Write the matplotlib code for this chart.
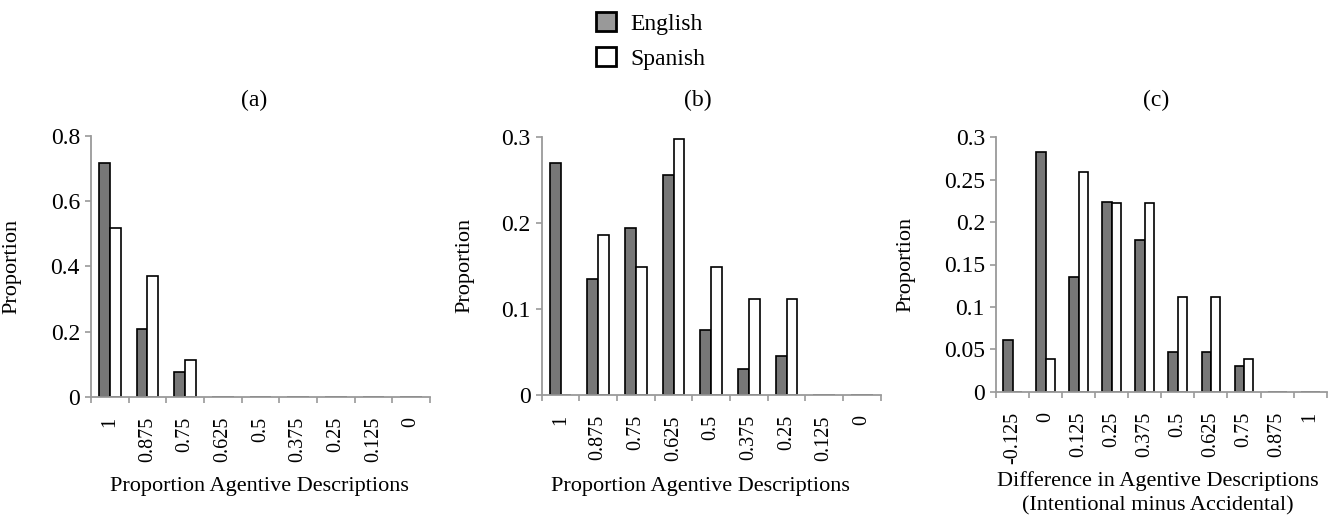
import numpy as np
import matplotlib.pyplot as plt
from matplotlib.patches import Patch

plt.rcParams['font.family'] = ['Liberation Serif', 'DejaVu Serif']

# category labels
cats_ab = ['1', '0.875', '0.75', '0.625', '0.5', '0.375', '0.25', '0.125', '0']
cats_c = ['-0.125', '0', '0.125', '0.25', '0.375', '0.5', '0.625', '0.75', '0.875', '1']

# panel (a)
eng_a = [0.716, 0.208, 0.075, 0, 0, 0, 0, 0, 0]
spa_a = [0.519, 0.371, 0.1125, 0, 0, 0, 0, 0, 0]
# panel (b)
eng_b = [0.269, 0.135, 0.194, 0.255, 0.0755, 0.0306, 0.0457, 0, 0]
spa_b = [0, 0.1854, 0.1486, 0.297, 0.1486, 0.111, 0.111, 0, 0]
# panel (c)
eng_c = [0.0609, 0.2823, 0.1353, 0.2233, 0.1793, 0.0464, 0.0464, 0.0307, 0, 0]
spa_c = [0, 0.0385, 0.2587, 0.2221, 0.2221, 0.1113, 0.1113, 0.0385, 0, 0]

W, H = 1329, 518
fig = plt.figure(figsize=(W / 100, H / 100), dpi=100)

gray = '#777777'
axcol = '#9a9a9a'
bw = 1 / 3.5  # excel style gap width 150%


def px_axes(left, right, top, bottom):
    return fig.add_axes([left / W, 1 - bottom / H, (right - left) / W, (bottom - top) / H])


def draw(ax, cats, eng, spa, ymax, yticks, ytl, xlabel, ylab_x, xlab_x, xlab_y):
    x = np.arange(len(cats))
    ax.bar(x - bw / 2, eng, bw, color=gray, edgecolor='black', linewidth=1.2)
    ax.bar(x + bw / 2, spa, bw, color='white', edgecolor='black', linewidth=1.2)
    ax.set_xlim(-0.5, len(cats) - 0.5)
    ax.set_ylim(0, ymax)
    ax.set_yticks(yticks)
    ax.set_yticklabels(ytl, fontsize=17)
    ax.set_xticks(x)
    ax.set_xticklabels(cats, rotation=90, fontsize=14.5)
    ax.set_xticks(np.arange(len(cats) + 1) - 0.5, minor=True)
    ax.tick_params(axis='x', which='major', length=0, pad=14.5)
    ax.tick_params(axis='x', which='minor', length=4.5, width=1.2, color=axcol)
    ax.tick_params(axis='y', length=4, width=1.2, color=axcol, pad=4)
    for s in ['top', 'right']:
        ax.spines[s].set_visible(False)
    for s in ['left', 'bottom']:
        ax.spines[s].set_color(axcol)
        ax.spines[s].set_linewidth(1.3)
    ax.set_ylabel('Proportion', fontsize=16)
    ax.yaxis.set_label_coords(ylab_x, 0.5)
    ax.set_xlabel(xlabel, fontsize=16, linespacing=1.4)
    ax.xaxis.set_label_coords(xlab_x, xlab_y)
    ax.xaxis.label.set_va('center')


ax_a = px_axes(91, 430, 136, 396.7)
draw(ax_a, cats_ab, eng_a, spa_a, 0.8, [0, 0.2, 0.4, 0.6, 0.8],
     ['0', '0.2', '0.4', '0.6', '0.8'], 'Proportion Agentive Descriptions',
     -0.205, 0.496, -0.346)

ax_b = px_axes(541.7, 880.7, 136.7, 395)
draw(ax_b, cats_ab, eng_b, spa_b, 0.3, [0, 0.1, 0.2, 0.3],
     ['0', '0.1', '0.2', '0.3'], 'Proportion Agentive Descriptions',
     -0.2, 0.467, -0.356)

ax_c = px_axes(996, 1326.7, 137.3, 391.7)
draw(ax_c, cats_c, eng_c, spa_c, 0.3, [0, 0.05, 0.1, 0.15, 0.2, 0.25, 0.3],
     ['0', '0.05', '0.1', '0.15', '0.2', '0.25', '0.3'],
     'Difference in Agentive Descriptions\n(Intentional minus Accidental)',
     -0.245, 0.49, -0.40)

for lab, xc in [('(a)', 254), ('(b)', 698), ('(c)', 1156)]:
    fig.text(xc / W, 1 - 100 / H, lab, ha='center', va='center', fontsize=17)

handles = [Patch(facecolor='#999999', edgecolor='black', linewidth=2),
           Patch(facecolor='white', edgecolor='black', linewidth=2)]
fig.legend(handles, ['English', 'Spanish'], loc='center',
           bbox_to_anchor=(651 / W, 1 - 41 / H), frameon=False, fontsize=17,
           handlelength=0.85, handleheight=0.85, handletextpad=0.6,
           labelspacing=0.55, borderpad=0)

fig.savefig('out.png', dpi=100)
